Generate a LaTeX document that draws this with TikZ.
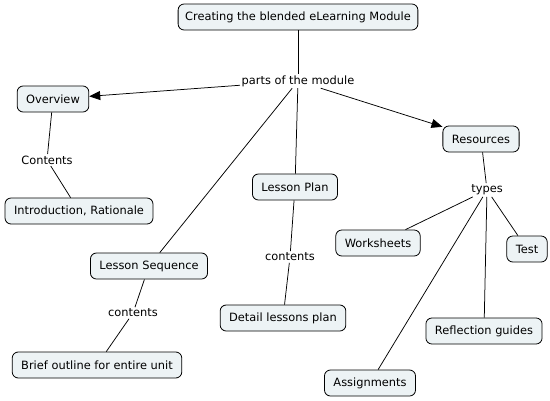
\documentclass[tikz,border=0pt]{standalone}
\usepackage{fontspec}
\setmainfont{DejaVu Sans}
\usetikzlibrary{arrows.meta}
\definecolor{boxfill}{HTML}{EDF3F5}
\tikzset{
  concept/.style={draw=black, fill=boxfill, rounded corners=6pt, line width=0.8pt,
    inner xsep=9pt, inner ysep=0pt, minimum height=26pt, font=\fontsize{11.4}{13}\selectfont},
  linkword/.style={inner sep=1.5pt, font=\fontsize{11.4}{13}\selectfont},
  conn/.style={draw=black, line width=0.75pt},
  arr/.style={conn, -{Triangle[length=11pt,width=9pt]}}
}
\begin{document}
\begin{tikzpicture}[x=1pt,y=-1pt]
\useasboundingbox (0,0) rectangle (550,400);
\node[concept, inner xsep=7pt] (top) at (298,17) {Creating the blended eLearning Module};
\node[linkword] (parts) at (298,81) {parts of the module};
\node[concept] (over) at (53,99) {Overview};
\node[linkword] (cont1) at (47,160) {Contents};
\node[concept] (intro) at (79,211) {Introduction, Rationale};
\node[concept] (res) at (481,139) {Resources};
\node[linkword] (types) at (487,190) {types};
\node[concept] (work) at (378,243) {Worksheets};
\node[concept] (test) at (527,249) {Test};
\node[concept] (refl) at (484,331) {Reflection guides};
\node[concept] (assign) at (370,383) {Assignments};
\node[concept] (plan) at (295,187) {Lesson Plan};
\node[linkword] (cont2) at (290,257) {contents};
\node[concept] (detail) at (283,318) {Detail lessons plan};
\node[concept] (seq) at (149,266) {Lesson Sequence};
\node[linkword] (cont3) at (133,313) {contents};
\node[concept] (brief) at (97,365) {Brief outline for entire unit};

\draw[conn] (top) -- (parts);
\draw[arr] (parts) -- (over);
\draw[arr] (parts) -- (res);
\draw[conn] (parts) -- (plan);
\draw[conn] (parts) -- (seq);
\draw[conn] (over) -- (cont1);
\draw[conn] (cont1) -- (intro);
\draw[conn] (res) -- (types);
\draw[conn] (types) -- (work);
\draw[conn] (types) -- (test);
\draw[conn] (types) -- (refl);
\draw[conn] (types) -- (assign);
\draw[conn] (plan) -- (cont2);
\draw[conn] (cont2) -- (detail);
\draw[conn] (seq) -- (cont3);
\draw[conn] (cont3) -- (brief);
\end{tikzpicture}
\end{document}
